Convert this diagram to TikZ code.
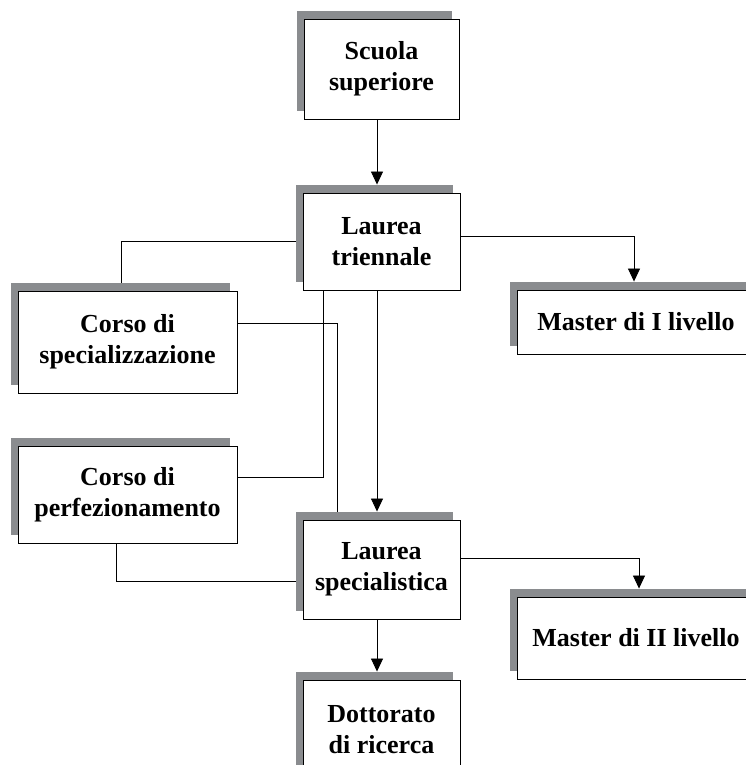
\documentclass[tikz,border=0pt]{standalone}
\usepackage{fontspec}
\setmainfont{Liberation Serif}
\usetikzlibrary{arrows.meta,shadows,backgrounds}
\definecolor{shadowgray}{RGB}{138,140,143}
\tikzset{
  box/.style={draw,fill=white,line width=0.9pt,inner sep=0pt,align=center,
    font=\fontsize{26}{31}\selectfont\bfseries,
    general shadow={shadow xshift=-7pt,shadow yshift=8pt,fill=shadowgray}},
  link/.style={line width=0.8pt},
  arrow/.style={link,->,shorten >=8pt}
}
\begin{document}
\begin{tikzpicture}[x=1pt,y=-1pt,>={Triangle[width=12pt,length=13pt]}]
\useasboundingbox (0,0) rectangle (746,765);
\clip (0,0) rectangle (746,765);
\node[box,minimum width=155pt,minimum height=100pt] (SS) at (381.5,69) {Scuola\\superiore};
\node[box,minimum width=157pt,minimum height=97pt] (LT) at (381.5,241.5) {Laurea\\triennale};
\node[box,minimum width=157pt,minimum height=99pt] (LS) at (381.5,569.5) {Laurea\\specialistica};
\node[box,minimum width=157pt,minimum height=100pt] (DR) at (381.5,730) {Dottorato\\di ricerca};
\node[box,minimum width=219pt,minimum height=102pt] (CS) at (127.5,342) {Corso di\\specializzazione};
\node[box,minimum width=219pt,minimum height=97pt] (CP) at (127.5,494.5) {Corso di\\perfezionamento};
\node[box,minimum width=238pt,minimum height=64pt] (MI) at (636,322) {Master di I livello};
\node[box,minimum width=238pt,minimum height=82pt] (MII) at (636,638) {Master di II livello};
\begin{scope}[on background layer]
\draw[arrow] ([xshift=-4.5pt]SS.south) -- ([xshift=-4.5pt]LT.north);
\draw[arrow] ([yshift=5.5pt]LT.east) -| ([xshift=-2pt]MI.north);
\draw[link] (LT.west) -| ([xshift=-6.5pt]CS.north);
\draw[link] ([yshift=19pt]CS.east) -| ([xshift=-44.5pt]LS.north);
\draw[link] ([xshift=-58.5pt]LT.south) |- ([yshift=17.5pt]CP.east);
\draw[link] ([xshift=-11.5pt]CP.south) |- ([yshift=-11.5pt]LS.west);
\draw[arrow] ([xshift=-4.5pt]LT.south) -- ([xshift=-4.5pt]LS.north);
\draw[arrow] ([yshift=11.5pt]LS.east) -| ([xshift=3pt]MII.north);
\draw[arrow] ([xshift=-4.5pt]LS.south) -- ([xshift=-4.5pt]DR.north);
\end{scope}
\end{tikzpicture}
\end{document}
